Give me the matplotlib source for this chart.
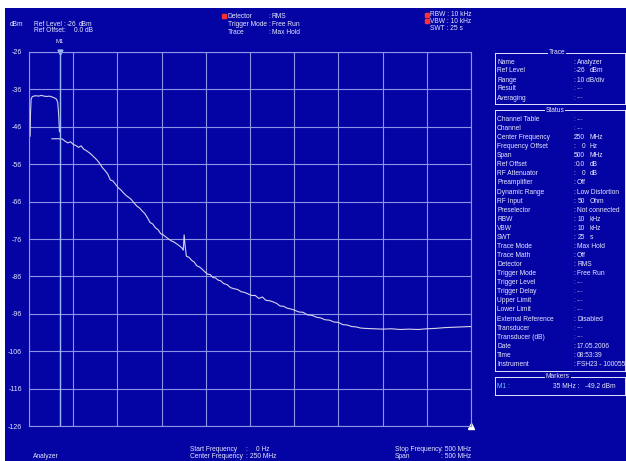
import matplotlib
matplotlib.use("Agg")
import matplotlib.pyplot as plt
from matplotlib.lines import Line2D
from matplotlib.patches import Rectangle

# Spectrum trace (Max Hold), frequency in MHz, level in dBm
carrier_freq = [0, 0.4, 0.9, 1.6, 2.4, 3.5, 5, 8, 11, 14, 17, 20, 23, 26, 29, 31, 32.5, 33.5, 34.5]
carrier_level = [-31.5, -40.0, -48.6, -43.0, -38.6, -38.0, -37.8, -37.7, -37.8, -37.6, -37.8,
                 -37.9, -37.8, -38.0, -38.3, -38.6, -39.5, -42.5, -47.3]

floor_freq = [26, 30, 35, 38, 41, 44, 47, 50, 53, 56, 59, 62, 65, 68, 71, 74, 77, 80, 83, 86,
              89, 92, 95, 98, 101, 104, 107, 110, 113, 116, 119, 122, 125, 128, 131, 134, 137,
              140, 143, 146, 149, 152, 155, 158, 161, 164, 167, 170, 173, 174.5, 175.5, 176.5,
              178, 181, 184, 187, 190, 193, 196, 199, 202, 205, 208, 211, 214, 217, 220, 224,
              228, 232, 236, 240, 244, 248, 252, 256, 260, 264, 268, 272, 276, 280, 284, 288,
              292, 296, 300, 305, 310, 315, 320, 325, 330, 335, 340, 345, 350, 355, 360, 365,
              370, 375, 380, 390, 400, 410, 420, 430, 440, 450, 460, 470, 480, 490, 500]
floor_level = [-49.2, -49.2, -49.2, -49.3, -49.9, -50.3, -50.0, -50.7, -51.0, -51.5, -51.1,
               -52.0, -52.4, -52.9, -53.5, -54.2, -54.9, -55.8, -56.9, -57.7, -58.6, -60.2,
               -60.5, -61.4, -62.3, -62.9, -63.7, -64.4, -64.9, -65.5, -66.4, -67.2, -67.7,
               -68.5, -69.2, -70.3, -71.6, -72.0, -73.0, -73.5, -74.6, -74.9, -75.5, -76.0,
               -76.5, -76.8, -77.3, -77.8, -78.4, -79.0, -74.9, -77.6, -80.6, -80.9, -81.7,
               -82.2, -83.2, -83.5, -84.1, -84.8, -85.4, -85.5, -86.3, -86.4, -87.0, -87.2,
               -87.9, -88.2, -89.0, -89.3, -89.5, -90.1, -90.3, -90.7, -91.1, -91.1, -91.9,
               -91.5, -92.4, -92.5, -92.8, -93.2, -93.9, -94.0, -94.5, -94.7, -95.0, -95.5,
               -95.6, -96.3, -96.4, -96.9, -97.1, -97.6, -97.7, -98.2, -98.3, -98.9, -99.0,
               -99.4, -99.5, -99.8, -99.9, -100.0, -100.1, -100.0, -100.2, -100.1, -100.2,
               -100.0, -99.9, -99.7, -99.6, -99.5, -99.4]

marker_freq = 35
marker_level = -49.2

y_ticks = [-26, -36, -46, -56, -66, -76, -86, -96, -106, -116, -126]

trace_rows = [("Name", "Analyzer", ""), ("Ref Level", "-26", "dBm"), ("Range", "10 dB/div", ""),
              ("Result", "---", ""), ("Averaging", "---", "")]
status_rows = [("Channel Table", "---", ""), ("Channel", "---", ""),
               ("Center Frequency", "250", "MHz"), ("Frequency Offset", "0", "Hz"),
               ("Span", "500", "MHz"), ("Ref Offset", "0.0", "dB"), ("RF Attenuator", "0", "dB"),
               ("Preamplifier", "Off", ""), ("Dynamic Range", "Low Distortion", ""),
               ("RF Input", "50", "Ohm"), ("Preselector", "Not connected", ""),
               ("RBW", "10", "kHz"), ("VBW", "10", "kHz"), ("SWT", "25", "s"),
               ("Trace Mode", "Max Hold", ""), ("Trace Math", "Off", ""), ("Detector", "RMS", ""),
               ("Trigger Mode", "Free Run", ""), ("Trigger Level", "---", ""),
               ("Trigger Delay", "---", ""), ("Upper Limit", "---", ""), ("Lower Limit", "---", ""),
               ("External Reference", "Disabled", ""), ("Transducer", "---", ""),
               ("Transducer (dB)", "---", ""), ("Date", "17.05.2006", ""),
               ("Time", "08:53:39", ""), ("Instrument", "FSH23 - 100055", "")]

BG = "#0404a4"
GRID = "#8e94e8"
TXT = "#e6e6ff"
DIM = "#8a8ad8"
TRACE = "#d4d4ec"
MARK = "#96bcff"
FONT = ["Liberation Sans Narrow", "Liberation Sans", "DejaVu Sans"]
FS = 4.8

W, H = 626, 461
fig = plt.figure(figsize=(W / 100, H / 100), dpi=100, facecolor="white")
fig.add_artist(Rectangle((5 / W, 0), 1, 1 - 8 / H, transform=fig.transFigure,
                         facecolor=BG, edgecolor="none", zorder=0))


def px(x, y):
    return x / W, 1 - y / H


def ftext(x, y, s, color=TXT, ha="left", **kw):
    fx, fy = px(x, y)
    return fig.text(fx, fy, s, color=color, ha=ha, va="center", fontsize=FS,
                    family=FONT, **kw)


def fline(x0, y0, x1, y1, color=TXT, lw=0.7):
    (a, b), (c, d) = px(x0, y0), px(x1, y1)
    fig.add_artist(Line2D([a, c], [b, d], color=color, lw=lw, transform=fig.transFigure))


def red_dot(x, y):
    a, b = px(x, y)
    fig.add_artist(Line2D([a], [b], marker="s", ms=2.2, color="#ff3030",
                          transform=fig.transFigure))


# plot area
ax = fig.add_axes([29 / W, 1 - 426 / H, 442 / W, 374 / H])
ax.set_facecolor(BG)
ax.set_xlim(0, 500)
ax.set_ylim(-126, -26)
ax.set_xticks(range(0, 501, 50))
ax.set_xticklabels([])
ax.set_yticks(y_ticks)
ax.set_yticklabels([str(v) for v in y_ticks], family=FONT)
ax.tick_params(length=0, labelsize=5, labelcolor=TXT, pad=5)
ax.grid(color=GRID, lw=0.8)
for sp in ax.spines.values():
    sp.set_color(GRID)
    sp.set_linewidth(0.8)

ax.plot(carrier_freq, carrier_level, color=TRACE, lw=0.8)
ax.plot(floor_freq, floor_level, color=TRACE, lw=0.8)

# marker M1
ax.axvline(marker_freq, color=MARK, lw=1.0)
ax.plot(marker_freq, -26, marker="v", ms=3.5, color=MARK, clip_on=False)
ax.annotate("M1", (marker_freq, -26), xytext=(0, 6), textcoords="offset points",
            ha="center", va="bottom", fontsize=FS - 0.5, color=TXT, family=FONT)
ax.plot(500, -126, marker="^", ms=4.5, color="white", clip_on=False)

# header
ftext(10, 24, "dBm")
ftext(34, 24, "Ref Level")
ftext(63, 24, ":")
ftext(67, 24, "-26")
ftext(79, 24, "dBm")
ftext(34, 31, "Ref Offset")
ftext(63, 31, ":")
ftext(74, 31, "0.0 dB")

for i, (lab, val) in enumerate([("Detector", "RMS"), ("Trigger Mode", "Free Run"),
                                ("Trace", "Max Hold")]):
    y = 16 + i * 8
    ftext(228, y, lab)
    ftext(268, y, ":")
    ftext(272, y, val)
red_dot(224, 16)

for i, s in enumerate(["RBW : 10 kHz", "VBW : 10 kHz", "SWT : 25 s"]):
    y = 15 + i * 6.5
    ftext(430, y, s)
    if i < 2:
        red_dot(427, y)

# footer
ftext(33, 456, "Analyzer")
ftext(190, 449, "Start Frequency")
ftext(245, 449, ":")
ftext(256, 449, "0 Hz")
ftext(190, 456, "Center Frequency")
ftext(245, 456, ":")
ftext(250, 456, "250 MHz")
ftext(395, 449, "Stop Frequency")
ftext(441, 449, ": 500 MHz")
ftext(395, 456, "Span")
ftext(441, 456, ": 500 MHz")


# side panel boxes
def box(top, bottom, title, tx):
    fline(495, top, 495, bottom)
    fline(495, bottom, 625, bottom)
    fline(625, top, 625, bottom)
    fline(495, top, 625, top)
    ftext(tx, top - 0.5, title, ha="center",
          bbox=dict(facecolor=BG, edgecolor="none", pad=0.6))


def rows(entries, y0, step):
    for i, (lab, val, unit) in enumerate(entries):
        y = y0 + i * step
        ftext(497, y, lab)
        ftext(573, y, ":", color=DIM if val == "---" else TXT)
        if unit:
            ftext(585, y, val, ha="right")
            ftext(590, y, unit)
        else:
            ftext(577, y, val, color=DIM if val == "---" else TXT)


box(53, 104, "Trace", 557)
rows(trace_rows, 62, 9.0)
box(110.5, 371, "Status", 555)
rows(status_rows, 119.5, 9.07)
box(377, 395, "Markers", 558)
ftext(497, 387, "M1 :", color="#62c8ff")
ftext(553, 387, "35 MHz :")
ftext(585, 387, "-49.2 dBm")

fig.savefig("out.png", dpi=100, facecolor="white")
